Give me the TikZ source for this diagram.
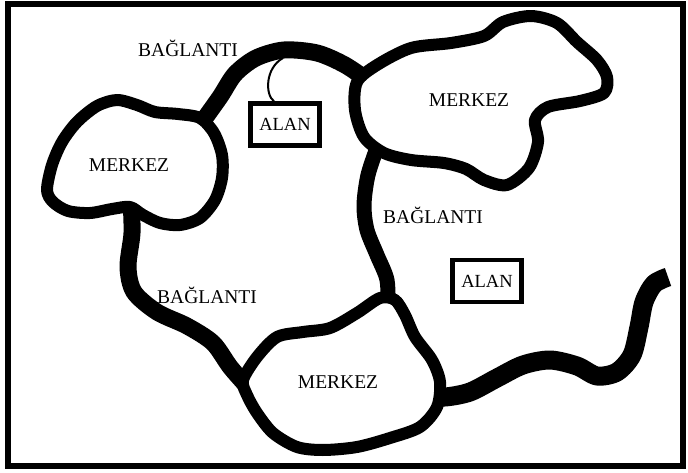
\documentclass[tikz,border=0pt]{standalone}
\usepackage{fontspec}
\setmainfont{Liberation Serif}
\usepackage{xcolor}
\usepackage{tikz}
\usetikzlibrary{positioning,calc}

\begin{document}
\begin{tikzpicture}[x=1pt, y=-1pt,
    road/.style={line width=17pt, line join=round},
    rim/.style={draw, line width=12pt, fill=white, line join=round},
    lbl/.style={font=\fontsize{19.5}{19.5}\selectfont, inner sep=0pt, anchor=base},
    alanbox/.style={draw, line width=4.5pt, font=\fontsize{18.5}{18.5}\selectfont,
                    minimum width=69pt, minimum height=42pt, inner sep=0pt}]
    \useasboundingbox (0,0) rectangle (688,473);
    \draw[line width=5.5pt] (8,4) rectangle (683,466);

    \coordinate (jTopL) at (200,125);
    \coordinate (jTopR) at (370,82);
    \coordinate (jMidT) at (378,145);
    \coordinate (jMidB) at (388,310);
    \coordinate (jLeftT) at (131,200);
    \coordinate (jLeftB) at (255,395);
    \coordinate (jWave) at (428,395);
    \coordinate (waveEnd) at (668,277);
    \coordinate (hook) at (283,58);

    \draw[road] plot[smooth] coordinates {(jTopL) (220,97) (235,74) (256,58)
      (284,50) (317,53) (345,65) (jTopR)};
    \draw[road, line width=15pt] plot[smooth] coordinates {(jMidT) (368,175)
      (364,205) (367,230) (377,255) (387,280) (jMidB)};
    \draw[road] plot[smooth] coordinates {(jLeftT) (132,233) (128,267)
      (134,292) (157,312) (187,326) (213,343) (231,368) (jLeftB)};
    \draw[road, line width=19pt] plot[smooth] coordinates {(jWave) (445,397)
      (470,392) (497,378) (523,365) (550,360) (577,366) (597,376) (617,372)
      (632,355) (639,327) (644,302) (654,284) (waveEnd)};

    \draw[rim] plot[smooth cycle] coordinates {(47,190) (52,165) (62,142)
      (77,122) (97,106) (117,100) (137,105) (155,112) (178,114) (200,118)
      (214,133) (222,155) (222,178) (215,200) (200,218) (180,225) (160,223)
      (143,215) (130,207) (112,209) (90,213) (68,211) (53,202)};
    \draw[rim] plot[smooth cycle] coordinates {(357,82) (377,65) (411,48)
      (451,43) (484,36) (503,22) (531,16) (557,23) (577,42) (597,60) (607,77)
      (604,93) (580,101) (548,107) (535,120) (538,142) (529,168) (507,185)
      (484,180) (466,169) (444,163) (411,160) (384,153) (364,137) (355,110)};
    \draw[rim] plot[smooth cycle] coordinates {(243,380) (257,357) (277,337)
      (303,332) (330,328) (357,313) (380,298) (395,300) (405,315) (415,337)
      (432,360) (440,382) (437,407) (420,427) (390,438) (357,447) (323,450)
      (297,447) (273,433) (257,413) (247,395)};

    \node[alanbox] (alanA) at (285,124.5) {ALAN};
    \node[alanbox] (alanB) at (487,281) {ALAN};
    \draw[line width=2pt] (hook) .. controls (265,68) and (265,95)
      .. ($(alanA.north)!0.3!(alanA.north west)$);

    \node[lbl] (linkTop) at (188,57) {BAĞLANTI};
    \node[lbl] (linkMid) at (433,223) {BAĞLANTI};
    \node[lbl] (linkLeft) at (207,303) {BAĞLANTI};
    \node[lbl] (hubLeft) at (129,172) {MERKEZ};
    \node[lbl] (hubRight) at (469,107) {MERKEZ};
    \node[lbl] (hubBottom) at (338,388) {MERKEZ};
\end{tikzpicture}
\end{document}
